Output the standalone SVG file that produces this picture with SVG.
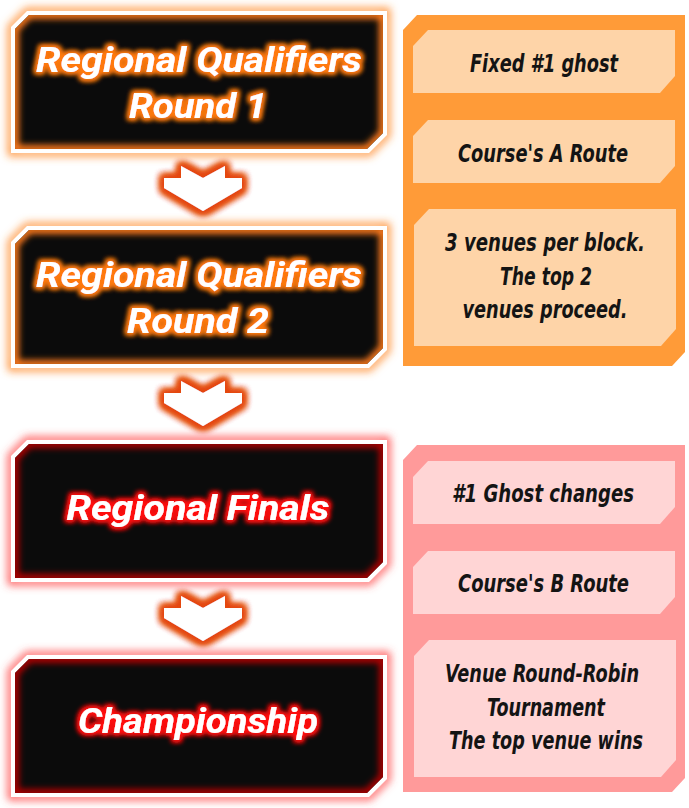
<svg xmlns="http://www.w3.org/2000/svg" width="689" height="808" viewBox="0 0 689 808">
<defs>
<style>
.title{font-family:Roboto,"Noto Sans","DejaVu Sans",sans-serif;font-weight:700;font-style:italic;font-size:35px;fill:#fff;text-anchor:middle}
.note{font-family:"DejaVu Sans Condensed","DejaVu Sans",sans-serif;font-stretch:condensed;font-weight:700;font-style:italic;font-size:24px;fill:#141414;text-anchor:middle}
.white{fill:#fff}
.dark{fill:#0b0b0b}
</style>
<path id="outer" d="M11,16 L27,0 L387,0 L387,124 L369,142 L11,142 Z"/>
<path id="inner" d="M15,18 L29,4 L383,4 L383,122 L367,138 L15,138 Z"/>
<clipPath id="clipIn" clipPathUnits="userSpaceOnUse"><use href="#inner"/></clipPath>
<filter id="blur4" x="-20%" y="-30%" width="140%" height="160%"><feGaussianBlur stdDeviation="4"/></filter>
<filter id="blur3" x="-20%" y="-30%" width="140%" height="160%"><feGaussianBlur stdDeviation="3"/></filter>
<filter id="tgO" x="-20%" y="-60%" width="140%" height="220%">
<feMorphology in="SourceAlpha" operator="dilate" radius="1.5" result="d"/>
<feGaussianBlur in="d" stdDeviation="2.5" result="b"/>
<feFlood flood-color="#ff7a10"/>
<feComposite in2="b" operator="in" result="g"/>
<feMerge><feMergeNode in="g"/><feMergeNode in="g"/><feMergeNode in="SourceGraphic"/></feMerge>
</filter>
<filter id="tgR" x="-20%" y="-60%" width="140%" height="220%">
<feMorphology in="SourceAlpha" operator="dilate" radius="1.5" result="d"/>
<feGaussianBlur in="d" stdDeviation="2.5" result="b"/>
<feFlood flood-color="#ff1010"/>
<feComposite in2="b" operator="in" result="g"/>
<feMerge><feMergeNode in="g"/><feMergeNode in="g"/><feMergeNode in="SourceGraphic"/></feMerge>
</filter>
<filter id="agl" x="-40%" y="-40%" width="180%" height="180%">
<feMorphology in="SourceAlpha" operator="dilate" radius="3" result="d"/>
<feGaussianBlur in="d" stdDeviation="3.5" result="b"/>
<feFlood flood-color="#e4480c"/>
<feComposite in2="b" operator="in" result="g"/>
<feMerge><feMergeNode in="g"/><feMergeNode in="g"/><feMergeNode in="g"/><feMergeNode in="SourceGraphic"/></feMerge>
</filter>
<polygon id="chev" points="164,12 181,12 181,0 203,12 225,0 225,12 242,12 242,22 203,45 164,22"/>
</defs>
<rect width="689" height="808" fill="#fff"/>

<g id="connectors">
<use href="#chev" class="white" filter="url(#agl)" transform="translate(0,166)"/>
<use href="#chev" class="white" filter="url(#agl)" transform="translate(0,381)"/>
<use href="#chev" class="white" filter="url(#agl)" transform="translate(0,596)"/>
</g>

<g id="node-rq1" transform="translate(0,11)">
<use href="#outer" fill="none" stroke="#ff8a2a" stroke-width="6" filter="url(#blur4)"/>
<use href="#outer" class="white"/>
<use href="#inner" class="dark"/>
<g clip-path="url(#clipIn)"><use href="#inner" fill="none" stroke="#ff7a1a" stroke-width="8" filter="url(#blur3)"/></g>
<g filter="url(#tgO)">
<text class="title" x="199" y="61" textLength="326" lengthAdjust="spacingAndGlyphs">Regional Qualifiers</text>
<text class="title" x="198" y="107" textLength="138" lengthAdjust="spacingAndGlyphs">Round 1</text>
</g>
</g>

<g id="node-rq2" transform="translate(0,226)">
<use href="#outer" fill="none" stroke="#ff8a2a" stroke-width="6" filter="url(#blur4)"/>
<use href="#outer" class="white"/>
<use href="#inner" class="dark"/>
<g clip-path="url(#clipIn)"><use href="#inner" fill="none" stroke="#ff7a1a" stroke-width="8" filter="url(#blur3)"/></g>
<g filter="url(#tgO)">
<text class="title" x="199" y="61" textLength="326" lengthAdjust="spacingAndGlyphs">Regional Qualifiers</text>
<text class="title" x="198" y="107" textLength="142" lengthAdjust="spacingAndGlyphs">Round 2</text>
</g>
</g>

<g id="node-finals" transform="translate(0,440)">
<use href="#outer" fill="none" stroke="#ff4a4a" stroke-width="6" filter="url(#blur4)"/>
<use href="#outer" class="white"/>
<use href="#inner" class="dark"/>
<g clip-path="url(#clipIn)"><use href="#inner" fill="none" stroke="#b00000" stroke-width="8" filter="url(#blur3)"/></g>
<g filter="url(#tgR)">
<text class="title" x="198" y="80" textLength="263" lengthAdjust="spacingAndGlyphs">Regional Finals</text>
</g>
</g>

<g id="node-champ" transform="translate(0,655)">
<use href="#outer" fill="none" stroke="#ff4a4a" stroke-width="6" filter="url(#blur4)"/>
<use href="#outer" class="white"/>
<use href="#inner" class="dark"/>
<g clip-path="url(#clipIn)"><use href="#inner" fill="none" stroke="#b00000" stroke-width="8" filter="url(#blur3)"/></g>
<g filter="url(#tgR)">
<text class="title" x="198" y="78" textLength="240" lengthAdjust="spacingAndGlyphs">Championship</text>
</g>
</g>

<g id="panel-qualifiers">
<polygon points="403,30 417,15 685,15 685,352 672,366 403,366" fill="#ff9b38"/>
<polygon points="413,46 428,30 675,30 675,76 660,93 413,93" fill="#fed4a8"/>
<polygon points="413,136 428,120 675,120 675,166 660,183 413,183" fill="#fed4a8"/>
<polygon points="414,225 429,209 676,209 676,329 661,346 414,346" fill="#fed4a8"/>
<text class="note" x="544" y="72" textLength="148" lengthAdjust="spacingAndGlyphs">Fixed #1 ghost</text>
<text class="note" x="543" y="162" textLength="170" lengthAdjust="spacingAndGlyphs">Course's A Route</text>
<text class="note" x="545" y="251" textLength="200" lengthAdjust="spacingAndGlyphs">3 venues per block.</text>
<text class="note" x="546" y="285" textLength="92" lengthAdjust="spacingAndGlyphs">The top 2</text>
<text class="note" x="545" y="318" textLength="165" lengthAdjust="spacingAndGlyphs">venues proceed.</text>
</g>

<g id="panel-finals">
<polygon points="403,460 417,445 685,445 685,778 672,792 403,792" fill="#ff9a9a"/>
<polygon points="413,477 428,461 675,461 675,507 660,524 413,524" fill="#ffd5d5"/>
<polygon points="413,567 428,551 675,551 675,597 660,614 413,614" fill="#ffd5d5"/>
<polygon points="414,656 429,640 676,640 676,760 661,777 414,777" fill="#ffd5d5"/>
<text class="note" x="543" y="502" textLength="182" lengthAdjust="spacingAndGlyphs">#1 Ghost changes</text>
<text class="note" x="543.5" y="592" textLength="171" lengthAdjust="spacingAndGlyphs">Course's B Route</text>
<text class="note" x="542" y="682" textLength="194" lengthAdjust="spacingAndGlyphs">Venue Round-Robin</text>
<text class="note" x="546" y="716" textLength="118" lengthAdjust="spacingAndGlyphs">Tournament</text>
<text class="note" x="546" y="749" textLength="194" lengthAdjust="spacingAndGlyphs">The top venue wins</text>
</g>
</svg>
